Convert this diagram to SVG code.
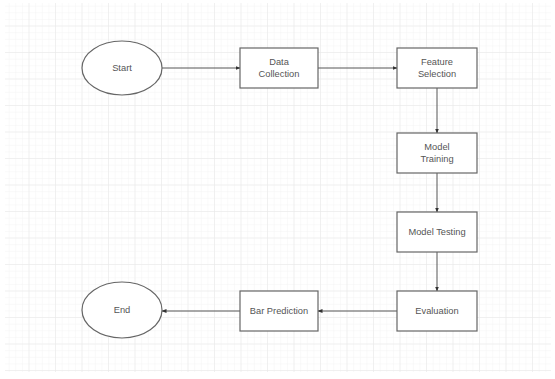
<svg xmlns="http://www.w3.org/2000/svg" width="555" height="379" viewBox="0 0 555 379">
<defs>
<pattern id="minor" x="3" y="0" width="6.625" height="6.625" patternUnits="userSpaceOnUse">
<path d="M6.625 0V6.625M0 6.625H6.625" fill="none" stroke="#f4f4f4" stroke-width="1"/>
</pattern>
<pattern id="major" x="3" y="0" width="26.5" height="26.5" patternUnits="userSpaceOnUse">
<path d="M26.5 0V26.5M0 26.5H26.5" fill="none" stroke="#e8e8e8" stroke-width="1"/>
</pattern>
<marker id="arr" viewBox="0 0 10 10" refX="9" refY="5" markerWidth="5" markerHeight="5" orient="auto" markerUnits="userSpaceOnUse">
<path d="M0 1L10 5L0 9z" fill="#333"/>
</marker>
<style>
.n{fill:#fff;stroke:#666;stroke-width:1.2}
.t{font-family:"Liberation Sans",Arial,sans-serif;font-size:9.3px;fill:#555;text-anchor:middle}
.c{fill:none;stroke:#555;stroke-width:1;marker-end:url(#arr)}
</style>
</defs>
<rect width="555" height="379" fill="#fff"/>
<rect x="5" y="3" width="546" height="369" fill="url(#minor)"/>
<rect x="5" y="3" width="546" height="369" fill="url(#major)"/>
<g id="connectors">
<path class="c" d="M162 68H240"/>
<path class="c" d="M318 68H397"/>
<path class="c" d="M437 88V133"/>
<path class="c" d="M437 173V212"/>
<path class="c" d="M437 252V291"/>
<path class="c" d="M397 311H318"/>
<path class="c" d="M240 311H162"/>
</g>
<g id="start"><ellipse class="n" cx="122" cy="68" rx="40" ry="27"/><text class="t" x="122" y="71">Start</text></g>
<g id="data-collection"><rect class="n" x="240" y="48" width="78" height="40"/><text class="t" x="279" y="65">Data</text><text class="t" x="279" y="77">Collection</text></g>
<g id="feature-selection"><rect class="n" x="397" y="48" width="80" height="40"/><text class="t" x="437" y="65">Feature</text><text class="t" x="437" y="77">Selection</text></g>
<g id="model-training"><rect class="n" x="397" y="133" width="80" height="40"/><text class="t" x="437" y="150">Model</text><text class="t" x="437" y="162">Training</text></g>
<g id="model-testing"><rect class="n" x="397" y="212" width="80" height="40"/><text class="t" x="437" y="235">Model Testing</text></g>
<g id="evaluation"><rect class="n" x="397" y="291" width="80" height="40"/><text class="t" x="437" y="314">Evaluation</text></g>
<g id="bar-prediction"><rect class="n" x="240" y="291" width="78" height="40"/><text class="t" x="279" y="314">Bar Prediction</text></g>
<g id="end"><ellipse class="n" cx="122" cy="310" rx="40" ry="28"/><text class="t" x="122" y="313">End</text></g>
</svg>
